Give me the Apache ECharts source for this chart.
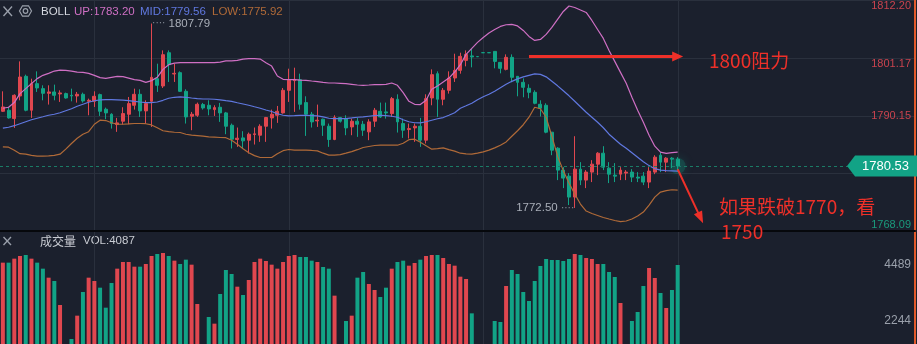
<!DOCTYPE html>
<html><head><meta charset="utf-8">
<script src="https://cdn.jsdelivr.net/npm/echarts@6/dist/echarts.min.js"></script>
<style>html,body{margin:0;padding:0;background:#1b202d;}#c{width:917px;height:344px;}</style>
</head><body><div id="c"></div>
<script>
// ---------------- data ----------------
const categories = Array.from({length: 160}, (_, i) => 'K' + i);
const opens = [1791.00,1791.20,1789.60,1793.93,1797.69,1791.20,1796.29,1795.33,1794.44,1794.70,
1794.32,1794.38,1794.06,1793.93,1794.25,1792.91,1792.91,1794.19,1791.39,1790.43,
1788.46,1789.10,1790.43,1792.15,1794.25,1791.07,1792.91,1797.24,1795.84,1802.21,
1798.13,1798.39,1794.82,1790.05,1790.24,1792.28,1792.15,1791.32,1791.77,1790.69,
1788.33,1785.60,1785.91,1785.47,1786.55,1786.42,1788.14,1789.73,1790.24,1790.69,
1795.01,1796.86,1797.05,1792.66,1790.43,1789.16,1789.48,1788.14,1785.60,1789.80,
1789.60,1788.01,1789.10,1788.52,1787.06,1789.10,1791.00,1790.88,1790.56,1793.30,
1788.65,1787.50,1787.82,1788.14,1785.47,1793.55,1798.20,1793.30,1795.01,1797.37,
1798.83,1800.74,1801.60,1801.47,1802.22,1802.22,1802.46,1800.36,1799.02,1801.32,
1797.69,1796.54,1795.40,1794.63,1792.34,1792.15,1787.00,1783.94,1779.74,1778.59,
1774.58,1779.93,1777.83,1779.36,1780.88,1782.98,1780.12,1778.78,1778.97,1779.17,
1779.36,1778.40,1778.59,1777.45,1779.36,1782.60,1781.27,1782.03,1781.84];
const closes = [1791.83,1789.73,1794.06,1797.56,1791.20,1796.29,1795.46,1794.44,1794.70,1794.06,
1794.51,1793.55,1793.93,1794.25,1792.98,1793.10,1793.87,1791.00,1790.69,1788.65,
1788.78,1790.56,1792.47,1794.25,1791.07,1792.47,1797.50,1795.97,1801.83,1799.92,
1798.26,1794.82,1789.92,1790.43,1792.34,1791.64,1791.45,1791.70,1790.69,1788.14,
1785.66,1785.85,1785.34,1786.61,1786.68,1788.14,1789.80,1790.43,1791.00,1795.01,
1796.92,1797.11,1792.34,1790.43,1788.97,1789.29,1788.33,1785.60,1789.80,1789.10,
1787.82,1789.10,1788.52,1787.38,1788.97,1791.20,1789.92,1790.69,1793.42,1788.97,
1787.38,1787.69,1788.14,1785.47,1793.42,1798.01,1793.30,1795.01,1797.37,1798.83,
1801.51,1801.89,1801.40,1801.45,1802.20,1802.20,1800.55,1799.22,1801.32,1797.50,
1796.54,1795.59,1794.63,1792.53,1791.58,1787.00,1783.56,1779.74,1778.21,1774.58,
1779.93,1777.83,1779.36,1780.88,1782.98,1780.31,1778.97,1778.59,1779.74,1779.36,
1778.40,1778.21,1777.45,1779.55,1782.22,1781.27,1782.03,1781.84,1780.53];
const lows = [1790.88,1789.60,1787.82,1793.10,1791.00,1789.73,1794.70,1793.10,1792.28,1793.10,
1792.79,1793.42,1792.91,1792.66,1792.66,1790.24,1791.83,1790.11,1789.48,1787.69,
1787.06,1788.46,1788.52,1791.32,1789.92,1788.65,1788.01,1794.70,1795.46,1796.61,
1796.61,1794.70,1788.65,1787.38,1789.92,1791.32,1790.24,1790.11,1788.97,1786.61,
1783.88,1784.19,1783.88,1782.92,1784.64,1785.15,1785.15,1787.69,1788.78,1790.56,
1792.79,1790.88,1791.32,1786.29,1787.89,1788.01,1786.29,1784.19,1785.47,1788.84,
1786.42,1786.42,1786.10,1786.29,1785.47,1788.01,1789.73,1789.60,1789.92,1786.93,
1785.91,1785.79,1785.15,1784.19,1784.83,1792.15,1789.92,1792.15,1794.38,1796.61,
1798.20,1799.60,1799.41,1801.45,1802.20,1802.20,1799.22,1798.26,1798.83,1796.54,
1793.87,1793.68,1793.49,1792.34,1790.00,1786.80,1782.60,1777.83,1776.30,1773.05,
1772.50,1776.87,1776.30,1777.45,1778.78,1779.74,1777.26,1777.45,1777.83,1777.83,
1777.45,1777.45,1776.87,1776.30,1778.97,1779.36,1779.36,1780.12,1779.36];
const highs = [1794.82,1791.83,1794.25,1800.55,1798.01,1797.24,1798.64,1795.97,1795.97,1796.10,
1795.01,1794.57,1795.33,1794.70,1794.57,1793.42,1794.82,1794.38,1791.70,1790.62,
1789.73,1791.77,1793.74,1795.33,1795.21,1793.10,1807.79,1800.11,1802.65,1802.65,
1800.11,1798.64,1795.21,1790.88,1792.66,1792.60,1793.10,1792.15,1792.60,1790.88,
1788.65,1787.89,1787.19,1786.93,1787.89,1788.52,1789.92,1791.32,1792.02,1795.46,
1799.15,1799.34,1798.20,1793.87,1790.88,1792.28,1789.60,1788.65,1790.24,1789.92,
1790.24,1789.60,1789.73,1789.16,1789.48,1791.64,1792.66,1792.66,1793.74,1794.25,
1789.60,1788.65,1788.65,1789.73,1794.25,1799.02,1798.64,1795.46,1798.64,1802.02,
1802.21,1802.65,1803.03,1801.47,1802.22,1802.22,1802.46,1800.36,1801.89,1801.89,
1797.69,1797.30,1796.16,1795.01,1793.10,1792.53,1787.00,1784.13,1780.31,1779.17,
1786.23,1781.27,1779.74,1781.65,1783.18,1784.32,1781.27,1781.08,1780.31,1779.74,
1779.93,1779.36,1779.36,1780.31,1782.60,1783.18,1782.22,1782.22,1782.22];
const volumes = [4583,4583,4743,4850,4890,4743,4583,4342,3981,3848,
2885,1200,1522,2458,3407,3981,3848,3580,2778,3767,
4342,4609,4609,4422,4422,4529,4850,4930,4970,4850,
4663,4529,4703,4502,2926,1250,2404,2137,3326,4289,
4128,3620,3286,3888,4609,4743,4649,4502,4342,4609,
4850,4890,4810,4810,4663,4609,4409,4342,3260,1180,
2244,2458,3981,4208,3727,3487,3206,3580,4342,4609,
4663,4462,4569,4703,4850,4890,4890,4770,4529,4462,
4021,3928,2551,1150,1100,1120,2244,2204,3647,4289,
4128,3407,3046,3848,4449,4730,4690,4690,4649,4730,
4930,4890,4770,4730,4529,4529,4208,4008,2966,1250,
2244,2605,3647,4369,3968,3366,2765,3487,4489];
const bollUp = [1791.58,1791.77,1792.67,1794.38,1795.34,1796.29,1797.25,1797.88,1798.26,1798.70,
1798.89,1798.83,1798.70,1798.51,1798.45,1798.26,1797.88,1797.44,1797.31,1797.50,
1797.69,1797.63,1797.36,1797.06,1796.92,1796.54,1796.87,1797.50,1799.02,1799.92,
1800.23,1800.30,1800.30,1800.30,1800.30,1800.30,1800.30,1800.32,1800.42,1800.65,
1800.65,1800.74,1800.99,1801.07,1801.07,1800.99,1800.30,1799.65,1797.74,1797.11,
1797.06,1797.06,1796.98,1796.92,1796.79,1796.68,1796.54,1796.41,1796.41,1796.35,
1796.29,1796.16,1796.03,1795.97,1796.03,1796.10,1796.10,1796.16,1796.41,1795.97,
1794.58,1792.91,1792.34,1792.28,1793.10,1795.20,1795.84,1796.60,1797.36,1798.51,
1799.92,1801.89,1803.03,1804.18,1805.13,1805.99,1806.66,1807.24,1807.56,1807.62,
1807.33,1806.47,1805.33,1804.56,1804.75,1805.71,1807.04,1808.57,1810.10,1811.15,
1810.86,1810.39,1809.91,1808.38,1806.66,1804.94,1802.65,1800.55,1798.45,1796.35,
1793.68,1791.20,1788.90,1786.42,1784.32,1783.18,1782.93,1783.08,1783.20];
const bollMid = [1787.76,1787.95,1788.24,1788.62,1789.00,1789.38,1789.67,1789.95,1790.24,1790.43,
1790.72,1791.10,1791.48,1791.96,1792.34,1792.72,1793.01,1793.20,1793.24,1793.24,
1793.20,1793.14,1793.05,1792.91,1792.78,1792.67,1792.67,1792.78,1793.10,1793.49,
1793.68,1793.74,1793.68,1793.54,1793.43,1793.35,1793.35,1793.30,1793.20,1793.05,
1792.91,1792.63,1792.40,1792.15,1791.86,1791.58,1791.25,1790.95,1790.53,1790.24,
1790.11,1790.15,1790.20,1790.24,1790.18,1790.11,1789.92,1789.67,1789.61,1789.61,
1789.61,1789.73,1789.86,1789.92,1790.05,1790.18,1790.24,1790.18,1790.05,1789.86,
1789.38,1789.00,1788.81,1788.77,1789.00,1789.29,1789.57,1789.80,1790.24,1790.72,
1791.58,1792.05,1792.53,1793.20,1793.77,1794.25,1794.82,1795.49,1796.16,1796.73,
1797.21,1797.59,1797.88,1798.17,1798.07,1797.59,1796.73,1795.87,1794.92,1793.96,
1792.91,1791.86,1790.81,1789.86,1788.90,1787.85,1786.61,1785.66,1784.70,1783.94,
1783.08,1782.22,1781.36,1780.60,1780.02,1779.74,1779.64,1779.60,1779.56];
const bollLow = [1784.19,1784.13,1783.56,1782.89,1782.79,1782.55,1782.41,1782.41,1782.47,1782.55,
1782.79,1783.75,1784.84,1785.85,1786.61,1787.09,1788.52,1789.29,1789.23,1788.81,
1788.52,1788.52,1788.58,1788.66,1788.66,1788.62,1788.39,1787.85,1787.28,1787.09,
1786.99,1786.94,1786.61,1786.42,1786.33,1786.23,1786.10,1786.04,1785.98,1785.94,
1785.47,1784.70,1783.84,1783.08,1782.51,1782.16,1782.16,1782.16,1782.89,1783.46,
1783.69,1783.56,1783.56,1783.56,1783.50,1783.42,1782.98,1782.60,1782.60,1782.70,
1782.98,1783.27,1783.65,1784.07,1784.26,1784.45,1784.51,1784.51,1784.51,1784.51,
1784.89,1785.56,1785.66,1785.09,1784.42,1783.75,1783.84,1784.00,1783.65,1783.37,
1782.98,1782.85,1782.79,1782.98,1783.23,1783.56,1784.00,1784.51,1785.14,1786.23,
1787.28,1788.43,1789.86,1791.77,1791.48,1789.86,1786.23,1782.41,1779.64,1777.26,
1775.16,1773.25,1771.91,1771.43,1771.05,1770.67,1770.38,1770.10,1769.87,1770.00,
1770.38,1770.95,1771.72,1773.06,1774.58,1775.54,1775.82,1775.98,1775.92];
const priceTicks = [1768.09, 1779.12, 1790.15, 1801.17, 1812.20];
const volumeTicks = [2244, 4489];
const volumeShown = 4087;

// ---------------- styling ----------------
const BG = '#1b202d', GRID = '#2a303d', RED = '#e0474f', GREEN = '#12a386';
const PINK = '#cf6fc4', BLUE = '#6078e0', BROWN = '#b06a38', ARROW = '#ee3029';
const AXIS_ORANGE = '#e25a2c';
const lastIdx = closes.length - 1;
const lastClose = closes[lastIdx];
const candleData = opens.map((o, i) => [o, closes[i], lows[i], highs[i]]);
const volData = volumes.map((v, i) => ({ value: v, itemStyle: { color: closes[i] > opens[i] ? RED : GREEN } }));
const vGridIdx = [16, 50, 84, 118];
const priceTickStyle = ['gb', null, 'r', 'rm', 'rt'];

const chart = echarts.init(document.getElementById('c'), null, { renderer: 'canvas' });
const fontLatin = '"Liberation Sans", Arial, sans-serif';
const fontCJK = '"Noto Sans CJK SC", sans-serif';

// vertical grid lines drawn as thin custom series spanning each panel
function vGridSeries(xi, yi, lo, hi) {
  return { type: 'custom', xAxisIndex: xi, yAxisIndex: yi, z: 0, silent: true,
    data: vGridIdx.map(i => [i]),
    renderItem: function (params, api) {
      const p0 = api.coord([api.value(0), lo]);
      const p1 = api.coord([api.value(0), hi]);
      return { type: 'line', shape: { x1: Math.round(p0[0]) + 0.5, y1: p0[1], x2: Math.round(p0[0]) + 0.5, y2: p1[1] },
        style: { stroke: GRID, lineWidth: 1 } };
    } };
}

const option = {
  backgroundColor: BG,
  animation: false,
  grid: [
    { left: 0, right: 2, top: 0, height: 231 },
    { left: 0, right: 2, top: 232, height: 112 }
  ],
  xAxis: [
    { type: 'category', gridIndex: 0, data: categories, boundaryGap: true,
      axisLabel: { show: false }, axisTick: { show: false }, splitLine: { show: false },
      axisLine: { show: true, onZero: false, lineStyle: { color: '#06080c', width: 2 } } },
    { type: 'category', gridIndex: 1, data: categories, boundaryGap: true,
      axisLabel: { show: false }, axisTick: { show: false }, splitLine: { show: false },
      axisLine: { show: false } }
  ],
  yAxis: [
    { type: 'value', gridIndex: 0, position: 'right',
      min: priceTicks[0], max: priceTicks[4], interval: (priceTicks[4] - priceTicks[0]) / 4,
      splitLine: { show: true, lineStyle: { color: GRID, width: 1 } },
      axisLine: { show: true, lineStyle: { color: AXIS_ORANGE, width: 2 } },
      axisTick: { show: false },
      axisLabel: { inside: true, margin: 4, showMinLabel: true, showMaxLabel: true,
        formatter: function (v) {
          let k = -1, d = 1e9;
          priceTicks.forEach((t, j) => { const dd = Math.abs(t - v); if (dd < d) { d = dd; k = j; } });
          if (d > 1 || !priceTickStyle[k]) return '';
          return '{' + priceTickStyle[k] + '|' + priceTicks[k].toFixed(2) + '}';
        },
        rich: {
          rt: { color: '#c9434e', fontSize: 11, fontFamily: fontLatin, padding: [10, 0, 0, 0] },
          rm: { color: '#c9434e', fontSize: 11, fontFamily: fontLatin, padding: [12, 0, 0, 0] },
          r: { color: '#c9434e', fontSize: 11, fontFamily: fontLatin },
          gb: { color: '#1a9a7c', fontSize: 11, fontFamily: fontLatin, padding: [0, 0, 12, 0] }
        }
      } },
    { type: 'value', gridIndex: 1, position: 'right', min: 1322, max: 5812,
      splitLine: { show: false },
      axisLine: { show: true, lineStyle: { color: AXIS_ORANGE, width: 2 } },
      axisTick: { show: false },
      axisLabel: { inside: true, margin: 4, customValues: volumeTicks, color: '#9aa0ab',
        fontSize: 12, fontFamily: fontLatin, formatter: v => String(Math.round(v)) } }
  ],
  series: [
    vGridSeries(0, 0, priceTicks[0], priceTicks[4]),
    vGridSeries(1, 1, 1322, 5812),
    { name: 'K', type: 'candlestick', xAxisIndex: 0, yAxisIndex: 0, data: candleData, barWidth: 3.4,
      itemStyle: { color: RED, color0: GREEN, borderColor: RED, borderColor0: GREEN, borderWidth: 1 },
      markPoint: { silent: true, symbol: 'circle', symbolSize: 1,
        data: [
          { type: 'max', valueDim: 'highest', itemStyle: { color: 'rgba(0,0,0,0)' },
            label: { show: true, position: 'right', distance: 0,
              formatter: p => '{d|····}{v| ' + Number(p.value).toFixed(2) + '}',
              rich: { d: { color: '#8a909b', fontSize: 10 }, v: { color: '#a9aeb8', fontSize: 11.5, fontFamily: fontLatin } } } },
          { type: 'min', valueDim: 'lowest', itemStyle: { color: 'rgba(0,0,0,0)' },
            label: { show: true, position: 'left', distance: 0,
              formatter: p => '{v|' + Number(p.value).toFixed(2) + ' }{d|····}',
              rich: { d: { color: '#8a909b', fontSize: 10 }, v: { color: '#a9aeb8', fontSize: 11.5, fontFamily: fontLatin } } } },
          { coord: [categories[154], lastClose], value: lastClose,
            symbol: 'path://M0,10L8,0L71,0L71,20L8,20Z', symbolSize: [71, 21], symbolOffset: [-1, 0],
            itemStyle: { color: GREEN },
            label: { show: true, position: 'inside', offset: [3, 0], color: '#ffffff', fontSize: 13,
              fontFamily: fontLatin, formatter: lastClose.toFixed(2) } }
        ] },
      markLine: { silent: true, symbol: ['none', 'none'], label: { show: false }, animation: false,
        data: [
          { yAxis: lastClose, lineStyle: { color: '#1b7b66', type: [3, 3], width: 1 } },
          [ { coord: [categories[92], 1801.5], symbol: 'none', lineStyle: { color: ARROW, width: 3, type: 'solid' } },
            { coord: [categories[118], 1801.5], symbol: 'triangle', symbolSize: [10, 11] } ],
          [ { coord: [categories[118], 1779.9], symbol: 'none', lineStyle: { color: ARROW, width: 2, type: 'solid' } },
            { coord: [categories[122], 1770.6], symbol: 'triangle', symbolSize: [9, 12] } ]
        ] } },
    { name: 'UP', type: 'line', xAxisIndex: 0, yAxisIndex: 0, data: bollUp, symbol: 'none',
      lineStyle: { color: PINK, width: 1.2 } },
    { name: 'MID', type: 'line', xAxisIndex: 0, yAxisIndex: 0, data: bollMid, symbol: 'none',
      lineStyle: { color: BLUE, width: 1.2 } },
    { name: 'LOW', type: 'line', xAxisIndex: 0, yAxisIndex: 0, data: bollLow, symbol: 'none',
      lineStyle: { color: BROWN, width: 1.2 } },
    { name: 'glow', type: 'scatter', xAxisIndex: 0, yAxisIndex: 0, z: 1,
      data: [[categories[lastIdx], lastClose]], symbolSize: 16,
      itemStyle: { color: 'rgba(18,163,134,0.28)', shadowBlur: 10, shadowColor: 'rgba(18,163,134,0.9)' } },
    { name: 'VOL', type: 'bar', xAxisIndex: 1, yAxisIndex: 1, data: volData, barWidth: 4 }
  ],
  graphic: [
    { type: 'line', shape: { x1: 3.5, y1: 6.5, x2: 12, y2: 16 }, style: { stroke: '#9aa0ab', lineWidth: 1.3 } },
    { type: 'line', shape: { x1: 12, y1: 6.5, x2: 3.5, y2: 16 }, style: { stroke: '#9aa0ab', lineWidth: 1.3 } },
    { type: 'polygon', shape: { points: [[31.5, 11], [28.5, 16.2], [22.5, 16.2], [19.5, 11], [22.5, 5.8], [28.5, 5.8]] },
      style: { fill: 'none', stroke: '#9aa0ab', lineWidth: 1.2 } },
    { type: 'circle', shape: { cx: 25.5, cy: 11, r: 2.3 }, style: { fill: 'none', stroke: '#9aa0ab', lineWidth: 1.2 } },
    { type: 'text', x: 41, y: 12, style: { text: 'BOLL', fill: '#d5d8df', font: '11.5px ' + fontLatin, verticalAlign: 'middle' } },
    { type: 'text', x: 74, y: 12, style: { text: 'UP:' + bollUp[lastIdx].toFixed(2), fill: PINK, font: '11.5px ' + fontLatin, verticalAlign: 'middle' } },
    { type: 'text', x: 140, y: 12, style: { text: 'MID:' + bollMid[lastIdx].toFixed(2), fill: BLUE, font: '11.5px ' + fontLatin, verticalAlign: 'middle' } },
    { type: 'text', x: 212, y: 12, style: { text: 'LOW:' + bollLow[lastIdx].toFixed(2), fill: BROWN, font: '11.5px ' + fontLatin, verticalAlign: 'middle' } },
    { type: 'line', shape: { x1: 3.5, y1: 237, x2: 11, y2: 245 }, style: { stroke: '#9aa0ab', lineWidth: 1.3 } },
    { type: 'line', shape: { x1: 11, y1: 237, x2: 3.5, y2: 245 }, style: { stroke: '#9aa0ab', lineWidth: 1.3 } },
    { type: 'text', x: 40, y: 241, style: { text: '成交量', fill: '#c9ccd3', font: '12px ' + fontCJK, verticalAlign: 'middle' } },
    { type: 'text', x: 83, y: 241, style: { text: 'VOL:' + volumeShown, fill: '#c9ccd3', font: '11.5px ' + fontLatin, verticalAlign: 'middle' } },
    { type: 'text', x: 709, y: 61, z: 100, style: { text: '1800阻力', fill: ARROW, font: '19px ' + fontCJK, verticalAlign: 'middle' } },
    { type: 'text', x: 719, y: 207, z: 100, style: { text: '如果跌破1770，看', fill: ARROW, font: '19px ' + fontCJK, verticalAlign: 'middle' } },
    { type: 'text', x: 721, y: 232, z: 100, style: { text: '1750', fill: ARROW, font: '19px ' + fontCJK, verticalAlign: 'middle' } }
  ]
};
chart.setOption(option);
</script></body></html>
